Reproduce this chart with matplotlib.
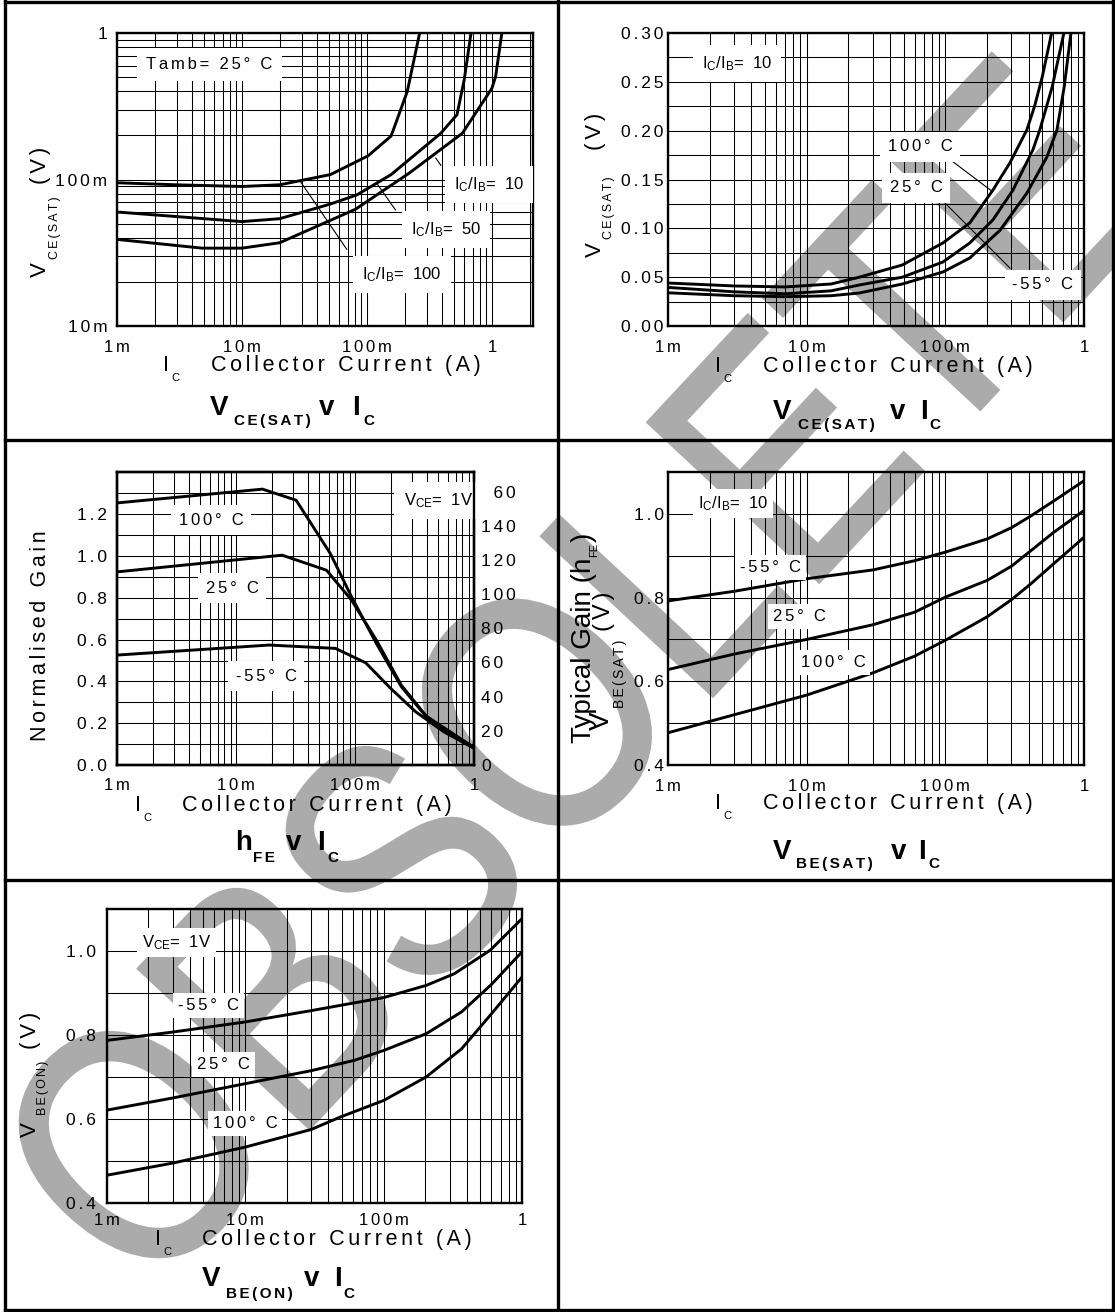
import numpy as np
import matplotlib
matplotlib.use("Agg")
import matplotlib.pyplot as plt
from matplotlib.ticker import MultipleLocator, NullFormatter, LogLocator
from matplotlib.textpath import TextPath
from matplotlib.patches import PathPatch
from matplotlib.font_manager import FontProperties
from matplotlib.transforms import Affine2D
from matplotlib.lines import Line2D

plt.rcParams['font.family'] = ['Liberation Sans', 'DejaVu Sans']
plt.rcParams['mathtext.fontset'] = 'custom'
plt.rcParams['mathtext.rm'] = 'Liberation Sans'
plt.rcParams['mathtext.it'] = 'Liberation Sans:italic'
plt.rcParams['mathtext.bf'] = 'Liberation Sans:bold'

# ---- data (Ic in A) ----
# VCE(sat) v Ic, Tamb = 25 C
ic_r100 = [1e-3, 3e-3, 0.01, 0.02, 0.051, 0.102, 0.156, 0.21, 0.264]
vce_r100 = [0.095, 0.092, 0.0896, 0.092, 0.108, 0.145, 0.198, 0.398, 1.0]
ic_r50 = [1e-3, 0.01, 0.02, 0.051, 0.083, 0.156, 0.39, 0.525, 0.60, 0.68]
vce_r50 = [0.060, 0.0516, 0.054, 0.068, 0.0785, 0.108, 0.207, 0.277, 0.48, 1.0]
ic_r10 = [1e-3, 4.8e-3, 0.01, 0.02, 0.081, 0.216, 0.58, 1.0, 1.07, 1.2]
vce_r10 = [0.039, 0.034, 0.034, 0.037, 0.0627, 0.110, 0.207, 0.42, 0.505, 1.0]

# VCE(sat) v Ic, Ic/Ib = 10
ic_s100 = [1e-3, 3e-3, 7e-3, 0.015, 0.024, 0.049, 0.096, 0.15, 0.22, 0.292, 0.387, 0.44, 0.50, 0.584]
vs_100 = [0.044, 0.041, 0.040, 0.043, 0.050, 0.0625, 0.085, 0.1055, 0.139, 0.167, 0.2007, 0.225, 0.255, 0.30]
ic_s25 = [1e-3, 3e-3, 7e-3, 0.015, 0.024, 0.049, 0.096, 0.15, 0.22, 0.307, 0.427, 0.48, 0.59, 0.716]
vs_25 = [0.0395, 0.035, 0.033, 0.036, 0.042, 0.050, 0.0655, 0.085, 0.1085, 0.139, 0.180, 0.2007, 0.245, 0.30]
ic_sm55 = [1e-3, 3e-3, 7e-3, 0.015, 0.024, 0.049, 0.096, 0.15, 0.248, 0.387, 0.54, 0.638, 0.72, 0.805]
vs_m55 = [0.034, 0.031, 0.030, 0.031, 0.0338, 0.043, 0.0553, 0.0696, 0.098, 0.136, 0.173, 0.2007, 0.245, 0.30]

# hFE v Ic, VCE = 1V (normalised gain)
ic_h100 = [1e-3, 0.0167, 0.032, 0.062, 0.0935, 0.151, 0.245, 0.397, 0.643, 1.0]
hfe_100 = [1.254, 1.32, 1.267, 1.012, 0.805, 0.582, 0.375, 0.231, 0.143, 0.084]
ic_h25 = [1e-3, 0.0244, 0.0576, 0.0935, 0.151, 0.245, 0.397, 1.0]
hfe_25 = [0.924, 1.004, 0.932, 0.789, 0.598, 0.382, 0.234, 0.084]
ic_hm55 = [1e-3, 0.019, 0.0685, 0.123, 0.199, 0.323, 0.557, 1.0]
hfe_m55 = [0.526, 0.574, 0.558, 0.489, 0.367, 0.255, 0.159, 0.08]

# VBE(sat) v Ic, Ic/Ib = 10
ic_b = [1e-3, 3e-3, 0.01, 0.03, 0.06, 0.1, 0.2, 0.3, 0.414, 0.6, 1.0]
vbs_m55 = [0.792, 0.815, 0.845, 0.866, 0.888, 0.9085, 0.940, 0.967, 0.995, 1.030, 1.079]
vbs_25 = [0.628, 0.665, 0.700, 0.735, 0.765, 0.801, 0.841, 0.875, 0.912, 0.955, 1.008]
vbs_100 = [0.477, 0.520, 0.567, 0.620, 0.660, 0.698, 0.754, 0.795, 0.833, 0.880, 0.944]

# VBE(on) v Ic, VCE = 1V
ic_on_m55 = [1e-3, 3e-3, 0.01, 0.03, 0.1, 0.203, 0.325, 0.59, 1.0]
von_m55 = [0.787, 0.807, 0.831, 0.858, 0.889, 0.918, 0.946, 1.002, 1.077]
ic_on_25 = [1e-3, 3e-3, 0.01, 0.03, 0.062, 0.1, 0.203, 0.366, 0.6, 1.0]
von_25 = [0.621, 0.650, 0.684, 0.715, 0.740, 0.763, 0.803, 0.855, 0.920, 0.998]
ic_on_100 = [1e-3, 3e-3, 0.01, 0.03, 0.049, 0.1, 0.203, 0.366, 0.6, 1.0]
von_100 = [0.466, 0.495, 0.533, 0.575, 0.605, 0.644, 0.700, 0.767, 0.850, 0.938]

x_ticks = [1e-3, 1e-2, 1e-1, 1]
x_ticklabels = ['1m', '10m', '100m', '1']
hfe_right_ticks = [0, 20, 40, 60, 80, 100, 120, 140, 160]
hfe_right_labels = ['0', '20', '40', '60', '80', '100', '120', '140', '\u200760']

W, H = 1115, 1312
fig = plt.figure(figsize=(W / 100, H / 100), dpi=100, facecolor='white')


def sp(s):
    return '\u2006'.join(s)


def add_ax(l, t, r, b):
    return fig.add_axes([l / W, 1 - b / H, (r - l) / W, (b - t) / H])


def style(ax, xpad, ypad):
    ax.set_facecolor('none')
    ax.set_xscale('log')
    ax.xaxis.set_minor_locator(LogLocator(base=10, subs=np.arange(2, 10), numticks=30))
    ax.xaxis.set_minor_formatter(NullFormatter())
    ax.set_xticks(x_ticks)
    ax.set_xticklabels([sp(t) for t in x_ticklabels], fontsize=12)
    ax.grid(True, which='both', color='black', lw=0.75)
    ax.tick_params(which='both', length=0)
    ax.tick_params(axis='x', pad=xpad)
    ax.tick_params(axis='y', pad=ypad, labelsize=12.5)
    for s in ax.spines.values():
        s.set_linewidth(1.7)
    ax.set_axisbelow(True)


def lab(ax, x, y, s, pad=0.45):
    ax.text(x, y, s, ha='center', va='center', fontsize=12, zorder=4,
            bbox=dict(boxstyle='square,pad=%s' % pad, fc='white', ec='none'))


def leader(ax, p0, p1):
    ax.plot([p0[0], p1[0]], [p0[1], p1[1]], color='black', lw=0.8, zorder=3)


def row(x, y, parts, rot=0):
    r = fig.canvas.get_renderer()
    pos = 0.0
    for s, size, bold, drop, gap in parts:
        pos += gap
        if rot == 0:
            px, py = x + pos, y + drop
        else:
            px, py = x + drop, y - pos
        t = fig.text(px / W, 1 - py / H, s, fontsize=size,
                     fontweight='bold' if bold else 'normal', rotation=rot,
                     rotation_mode='anchor', ha='left', va='baseline')
        bb = t.get_window_extent(renderer=r)
        pos += bb.width if rot == 0 else bb.height


def xlabel(ix, base, cx):
    row(ix, base, [('I', 15.5, False, 0, 0), ('C', 8, False, 10, 2)])
    fig.text(cx / W, 1 - base / H, sp('Collector Current (A)'), fontsize=15.5,
             ha='left', va='baseline')


LW = 2.1
ic_lab = r'I$_{\rm C}$/I$_{\rm B}$=  '
vce_lab = r'V$_{\rm CE}$=  1V'

# ---- panel 1 : VCE(sat) v Ic ----
ax1 = add_ax(117, 33, 533, 326)
style(ax1, 10, 7)
ax1.set_yscale('log')
ax1.yaxis.set_minor_locator(LogLocator(base=10, subs=np.arange(2, 10), numticks=30))
ax1.yaxis.set_minor_formatter(NullFormatter())
ax1.set_xlim(1e-3, 2.13)
ax1.set_ylim(1e-2, 1)
ax1.set_yticks([1e-2, 1e-1, 1])
ax1.set_yticklabels([sp('10m'), sp('100m'), '1'])
ax1.grid(True, which='both', color='black', lw=0.75)
ax1.plot(ic_r100, vce_r100, color='black', lw=LW)
ax1.plot(ic_r50, vce_r50, color='black', lw=LW)
ax1.plot(ic_r10, vce_r10, color='black', lw=LW)
lab(ax1, 5.5e-3, 0.61, sp('Tamb= 25° C'), pad=0.55)
lab(ax1, 0.95, 0.092, ic_lab + '10', pad=0.55)
lab(ax1, 0.43, 0.0456, ic_lab + '50', pad=0.55)
lab(ax1, 0.19, 0.0224, ic_lab + '100', pad=0.55)
leader(ax1, (0.39, 0.125), (0.355, 0.14))
leader(ax1, (0.169, 0.062), (0.12, 0.094))
leader(ax1, (0.0689, 0.0334), (0.0293, 0.097))

# ---- panel 2 : VCE(sat) v Ic vs temperature ----
ax2 = add_ax(668, 33, 1084, 326)
style(ax2, 10, 3)
ax2.set_xlim(1e-3, 1)
ax2.set_ylim(0, 0.30)
ax2.yaxis.set_minor_locator(MultipleLocator(0.025))
ax2.set_yticks([0, 0.05, 0.10, 0.15, 0.20, 0.25, 0.30])
ax2.set_yticklabels([sp('%.2f' % v) for v in [0, 0.05, 0.10, 0.15, 0.20, 0.25, 0.30]])
ax2.plot(ic_s100, vs_100, color='black', lw=LW)
ax2.plot(ic_s25, vs_25, color='black', lw=LW)
ax2.plot(ic_sm55, vs_m55, color='black', lw=LW)
lab(ax2, 3.14e-3, 0.269, ic_lab + '10', pad=0.55)
lab(ax2, 0.0656, 0.1833, sp('100° C'))
lab(ax2, 0.0614, 0.1413, sp('25° C'))
lab(ax2, 0.506, 0.042, sp('-55° C'))
leader(ax2, (0.1045, 0.172), (0.217, 0.138))
leader(ax2, (0.0993, 0.126), (0.292, 0.0594))

# ---- panel 3 : hFE v Ic ----
ax3 = add_ax(117, 472, 474, 765)
style(ax3, 9, 7)
ax3.set_xlim(1e-3, 1)
ax3.set_ylim(0, 1.402)
ax3.yaxis.set_minor_locator(MultipleLocator(0.1))
ax3.set_yticks([0, 0.2, 0.4, 0.6, 0.8, 1.0, 1.2])
ax3.set_yticklabels([sp('%.1f' % v) for v in [0, 0.2, 0.4, 0.6, 0.8, 1.0, 1.2]])
ax3.plot(ic_h100, hfe_100, color='black', lw=LW)
ax3.plot(ic_h25, hfe_25, color='black', lw=LW)
ax3.plot(ic_hm55, hfe_m55, color='black', lw=LW)
lab(ax3, 6.2e-3, 1.171, sp('100° C'))
lab(ax3, 9.3e-3, 0.845, sp('25° C'))
lab(ax3, 17.9e-3, 0.425, sp('-55° C'))
lab(ax3, 0.5, 1.267, vce_lab, pad=0.55)
ax3r = ax3.twinx()
ax3r.set_ylim(0, 171.5)
ax3r.set_yticks(hfe_right_ticks)
ax3r.set_yticklabels([sp(t) for t in hfe_right_labels])
ax3r.tick_params(length=0, pad=5, labelsize=12.5)
for s in ax3r.spines.values():
    s.set_linewidth(1.7)

# ---- panel 4 : VBE(sat) v Ic ----
ax4 = add_ax(668, 472, 1084, 765)
style(ax4, 10, 3)
ax4.set_xlim(1e-3, 1)
ax4.set_ylim(0.4, 1.1)
ax4.yaxis.set_minor_locator(MultipleLocator(0.1))
ax4.set_yticks([0.4, 0.6, 0.8, 1.0])
ax4.set_yticklabels([sp('%.1f' % v) for v in [0.4, 0.6, 0.8, 1.0]])
ax4.plot(ic_b, vbs_m55, color='black', lw=LW)
ax4.plot(ic_b, vbs_25, color='black', lw=LW)
ax4.plot(ic_b, vbs_100, color='black', lw=LW)
lab(ax4, 2.95e-3, 1.024, ic_lab + '10', pad=0.3)
lab(ax4, 5.5e-3, 0.873, sp('-55° C'), pad=0.3)
lab(ax4, 8.8e-3, 0.754, sp('25° C'), pad=0.3)
lab(ax4, 15.5e-3, 0.644, sp('100° C'), pad=0.3)

# ---- panel 5 : VBE(on) v Ic ----
ax5 = add_ax(106.6, 909, 522, 1203)
style(ax5, 7, 7.5)
ax5.set_xlim(1e-3, 1)
ax5.set_ylim(0.4, 1.1)
ax5.yaxis.set_minor_locator(MultipleLocator(0.1))
ax5.set_yticks([0.4, 0.6, 0.8, 1.0])
ax5.set_yticklabels([sp('%.1f' % v) for v in [0.4, 0.6, 0.8, 1.0]])
ax5.plot(ic_on_m55, von_m55, color='black', lw=LW)
ax5.plot(ic_on_25, von_25, color='black', lw=LW)
ax5.plot(ic_on_100, von_100, color='black', lw=LW)
lab(ax5, 3.2e-3, 1.021, vce_lab, pad=0.3)
lab(ax5, 5.4e-3, 0.871, sp('-55° C'), pad=0.3)
lab(ax5, 7e-3, 0.73, sp('25° C'), pad=0.3)
lab(ax5, 10e-3, 0.59, sp('100° C'), pad=0.3)

# ---- axis labels and titles ----
xlabel(163, 371, 211)
xlabel(715, 372, 763)
xlabel(135, 811, 182)
xlabel(715, 809, 763)
xlabel(155, 1245, 202)

row(210, 415, [('V', 20, True, 0, 0), (sp('CE(SAT)'), 11, True, 10, 5),
               ('v', 20, True, 0, 9), ('I', 20, True, 0, 18), ('C', 11, True, 10, 3)])
row(773, 419, [('V', 20, True, 0, 0), (sp('CE(SAT)'), 11, True, 10, 7),
               ('v', 20, True, 0, 15), ('I', 20, True, 0, 14), ('C', 11, True, 10, 2)])
row(235, 850, [('h', 20, True, 0, 0), (sp('FE'), 11, True, 12, 1),
               ('v', 20, True, 0, 11), ('I', 20, True, 0, 16), ('C', 11, True, 12, 2)])
row(773, 859, [('V', 20, True, 0, 0), (sp('BE(SAT)'), 11, True, 9, 5),
               ('v', 20, True, 0, 18), ('I', 20, True, 0, 12), ('C', 11, True, 9, 2)])
row(202, 1286, [('V', 20, True, 0, 0), (sp('BE(ON)'), 11, True, 12, 5),
                ('v', 20, True, 0, 12), ('I', 20, True, 0, 15), ('C', 11, True, 12, 1)])

row(46, 277, [('V', 16, False, 0, 0), (sp('CE(SAT)'), 9, False, 12, 3),
              (sp('(V)'), 16, False, 0, 13)], rot=90)
row(601, 257, [('V', 16, False, 0, 0), (sp('CE(SAT)'), 9, False, 11, 3),
               (sp('(V)'), 16, False, 0, 27)], rot=90)
row(36, 1137, [('V', 16, False, 0, 0), (sp('BE(ON)'), 9, False, 10, 7),
               (sp('(V)'), 16, False, 0, 12)], rot=90)
# the two y labels of this panel sit on top of each other in the original sheet
row(591, 743, [('Typical Gain (h', 20, False, 0, 0), ('FE', 8, False, 6, 1),
               (')', 20, False, 0, 1)], rot=90)
row(609, 730, [('V', 20, False, 0, 0), (sp('BE(SAT)'), 10, False, 15, 4),
               (sp('(V)'), 17, False, 1, 8)], rot=90)
fig.text(41 / W, 1 - 636 / H, sp('Normalised Gain'), rotation=90, fontsize=15.5,
         ha='center', va='center')


# ---- cell borders ----
def hline(y, x0=5, x1=1113):
    fig.add_artist(Line2D([x0 / W, x1 / W], [1 - y / H, 1 - y / H],
                          transform=fig.transFigure, color='black', lw=2.4))


def vline(x, y0=0, y1=1312):
    fig.add_artist(Line2D([x / W, x / W], [1 - y0 / H, 1 - y1 / H],
                          transform=fig.transFigure, color='black', lw=2.4))


for yy in [1.5, 440, 880, 1310]:
    hline(yy)
for xx in [5, 558, 1113]:
    vline(xx)

# ---- OBSOLETE watermark ----
tp = TextPath((0, 0), 'OBSOLETE', size=1, prop=FontProperties(family='Liberation Sans'))
ext = tp.get_extents()
tr = (Affine2D().translate(-(ext.x0 + ext.x1) / 2, -(ext.y0 + ext.y1) / 2)
      .scale(280, 340).rotate_deg(47).translate(575, H - 672))
fig.add_artist(PathPatch(tp, transform=tr, fc='#ababab', ec='#ababab', lw=2.5,
                         zorder=-5))

fig.savefig('out.png', dpi=100, facecolor='white')
